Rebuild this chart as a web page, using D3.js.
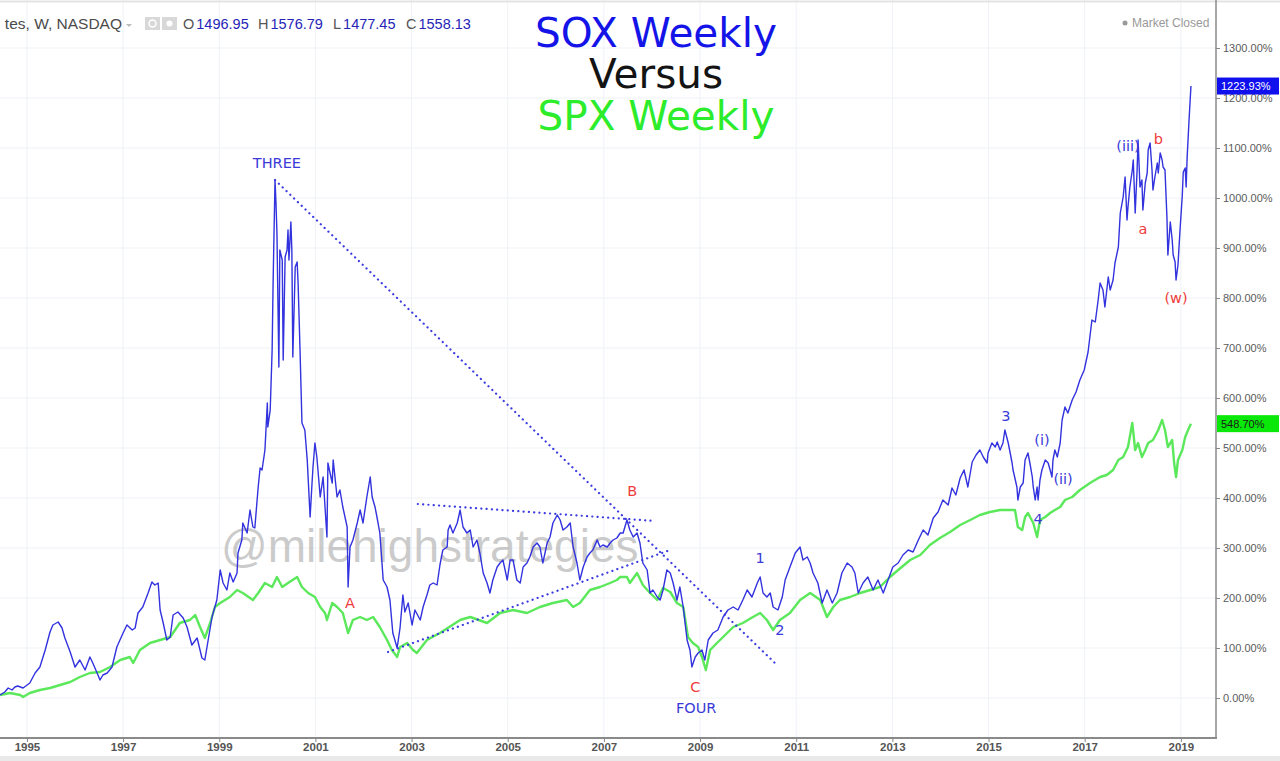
<!DOCTYPE html>
<html><head><meta charset="utf-8">
<script src="https://cdn.jsdelivr.net/npm/d3@7"></script>
<style>html,body{margin:0;padding:0;background:#fff;overflow:hidden}svg{display:block}</style>
</head><body><svg id="c" width="1280" height="761"></svg>
<script>
// ---------- DATA (decimal year, % change) ----------
const soxSeries = [
[1994.44,6],[1994.54,12],[1994.61,20],[1994.69,16],[1994.75,22],[1994.81,24],[1994.92,20],[1995.06,30],[1995.17,50],[1995.27,62],[1995.38,96],[1995.48,132],[1995.54,146],[1995.65,152],[1995.73,140],[1995.79,120],[1995.90,92],[1996.00,62],[1996.10,76],[1996.21,56],[1996.31,82],[1996.37,70],[1996.46,50],[1996.52,36],[1996.58,46],[1996.67,50],[1996.77,62],[1996.87,102],[1997.00,130],[1997.08,146],[1997.19,136],[1997.25,140],[1997.31,170],[1997.41,182],[1997.52,210],[1997.60,232],[1997.66,226],[1997.73,230],[1997.77,176],[1997.83,152],[1997.91,116],[1997.98,122],[1998.04,166],[1998.14,172],[1998.25,160],[1998.33,142],[1998.43,106],[1998.54,120],[1998.64,80],[1998.70,76],[1998.77,116],[1998.85,162],[1998.95,196],[1999.02,256],[1999.08,230],[1999.16,216],[1999.22,250],[1999.29,232],[1999.37,250],[1999.39,290],[1999.47,316],[1999.49,350],[1999.58,330],[1999.64,376],[1999.70,342],[1999.74,340],[1999.81,422],[1999.85,460],[1999.89,456],[1999.95,496],[2000.00,590],[2000.01,542],[2000.06,576],[2000.10,696],[2000.12,830],[2000.16,1036],[2000.18,990],[2000.20,930],[2000.24,662],[2000.26,896],[2000.31,876],[2000.33,676],[2000.37,882],[2000.41,896],[2000.43,936],[2000.45,876],[2000.49,952],[2000.51,896],[2000.53,682],[2000.58,862],[2000.62,872],[2000.64,830],[2000.68,696],[2000.72,550],[2000.78,536],[2000.83,476],[2000.89,362],[2000.93,430],[2000.95,462],[2000.99,510],[2001.03,482],[2001.10,402],[2001.16,442],[2001.24,322],[2001.26,470],[2001.35,430],[2001.37,476],[2001.45,402],[2001.51,416],[2001.57,382],[2001.66,342],[2001.68,222],[2001.72,302],[2001.78,316],[2001.87,350],[2001.93,376],[2001.99,350],[2002.07,402],[2002.14,442],[2002.18,402],[2002.24,382],[2002.28,362],[2002.34,330],[2002.41,236],[2002.49,222],[2002.55,196],[2002.61,130],[2002.70,100],[2002.76,140],[2002.82,206],[2002.86,172],[2002.93,190],[2003.01,146],[2003.07,176],[2003.18,156],[2003.24,182],[2003.32,206],[2003.38,226],[2003.45,230],[2003.53,226],[2003.59,266],[2003.65,296],[2003.74,302],[2003.76,336],[2003.80,346],[2003.86,330],[2003.95,350],[2004.01,376],[2004.07,342],[2004.15,330],[2004.22,336],[2004.28,302],[2004.36,316],[2004.42,290],[2004.49,250],[2004.57,230],[2004.63,210],[2004.69,236],[2004.78,262],[2004.84,270],[2004.90,276],[2004.99,236],[2005.05,276],[2005.11,276],[2005.19,236],[2005.26,230],[2005.32,262],[2005.40,270],[2005.46,282],[2005.53,302],[2005.61,310],[2005.67,302],[2005.73,270],[2005.82,310],[2005.88,322],[2005.94,350],[2006.03,366],[2006.09,356],[2006.15,336],[2006.23,342],[2006.30,350],[2006.36,302],[2006.44,270],[2006.50,236],[2006.57,262],[2006.65,282],[2006.71,290],[2006.77,296],[2006.86,316],[2006.92,302],[2006.98,306],[2007.07,302],[2007.13,310],[2007.19,316],[2007.27,320],[2007.34,330],[2007.40,330],[2007.48,356],[2007.54,336],[2007.61,322],[2007.69,330],[2007.75,310],[2007.81,270],[2007.90,256],[2007.96,210],[2008.02,216],[2008.11,202],[2008.17,196],[2008.23,216],[2008.31,256],[2008.38,250],[2008.44,230],[2008.52,196],[2008.58,222],[2008.65,182],[2008.73,116],[2008.79,96],[2008.83,62],[2008.90,82],[2008.96,90],[2009.04,96],[2009.10,76],[2009.17,116],[2009.27,130],[2009.37,136],[2009.48,162],[2009.58,176],[2009.69,182],[2009.79,176],[2009.89,196],[2009.98,216],[2010.08,202],[2010.19,230],[2010.25,242],[2010.31,210],[2010.39,202],[2010.46,210],[2010.52,182],[2010.62,176],[2010.71,202],[2010.77,236],[2010.87,262],[2010.98,290],[2011.08,302],[2011.14,276],[2011.23,282],[2011.29,270],[2011.35,250],[2011.45,230],[2011.54,190],[2011.64,216],[2011.75,190],[2011.85,210],[2011.95,250],[2012.06,270],[2012.16,262],[2012.22,250],[2012.29,210],[2012.39,230],[2012.49,242],[2012.60,216],[2012.70,236],[2012.81,210],[2012.91,236],[2013.01,262],[2013.12,270],[2013.22,286],[2013.33,296],[2013.43,292],[2013.54,316],[2013.64,336],[2013.74,326],[2013.85,360],[2013.95,372],[2014.05,396],[2014.16,386],[2014.24,420],[2014.32,406],[2014.41,440],[2014.49,456],[2014.57,422],[2014.66,472],[2014.74,486],[2014.82,496],[2014.89,482],[2014.97,470],[2014.99,490],[2015.07,510],[2015.14,502],[2015.18,512],[2015.24,496],[2015.30,510],[2015.34,536],[2015.41,510],[2015.49,470],[2015.51,456],[2015.59,422],[2015.61,396],[2015.66,422],[2015.72,430],[2015.76,476],[2015.82,490],[2015.86,470],[2015.91,442],[2015.93,422],[2015.97,396],[2016.01,422],[2016.03,396],[2016.07,436],[2016.11,456],[2016.18,476],[2016.24,470],[2016.28,456],[2016.32,442],[2016.34,476],[2016.38,496],[2016.43,482],[2016.49,510],[2016.53,556],[2016.59,582],[2016.65,570],[2016.74,596],[2016.82,612],[2016.90,636],[2016.99,656],[2017.07,692],[2017.15,756],[2017.22,752],[2017.28,796],[2017.32,830],[2017.38,816],[2017.42,782],[2017.49,842],[2017.53,816],[2017.59,836],[2017.63,870],[2017.70,902],[2017.74,970],[2017.80,1002],[2017.84,1042],[2017.88,956],[2017.90,982],[2017.94,1022],[2017.99,1056],[2018.01,1076],[2018.05,970],[2018.09,1056],[2018.11,1116],[2018.15,1022],[2018.19,1036],[2018.21,976],[2018.26,1030],[2018.30,1050],[2018.32,1096],[2018.36,1110],[2018.40,1056],[2018.42,1016],[2018.46,1042],[2018.51,1070],[2018.53,1050],[2018.57,1090],[2018.61,1076],[2018.63,1062],[2018.67,1056],[2018.71,962],[2018.73,886],[2018.78,952],[2018.82,916],[2018.84,886],[2018.88,872],[2018.90,836],[2018.94,866],[2018.98,932],[2019.03,1006],[2019.05,1052],[2019.09,1060],[2019.11,1022],[2019.13,1080],[2019.17,1156],[2019.21,1223.93]
];
const spxSeries = [
[1994.44,6],[1994.65,10],[1994.86,6],[1994.92,2],[1995.06,10],[1995.27,16],[1995.48,20],[1995.69,26],[1995.90,32],[1996.10,42],[1996.31,50],[1996.52,52],[1996.73,62],[1996.94,76],[1997.14,82],[1997.21,70],[1997.35,96],[1997.56,110],[1997.77,116],[1997.98,122],[1998.18,150],[1998.39,156],[1998.50,166],[1998.60,142],[1998.70,120],[1998.81,150],[1998.91,182],[1999.02,190],[1999.22,202],[1999.37,216],[1999.49,210],[1999.70,196],[1999.81,210],[1999.95,230],[2000.10,222],[2000.20,242],[2000.31,222],[2000.43,230],[2000.62,242],[2000.72,222],[2000.85,210],[2000.99,202],[2001.10,182],[2001.20,170],[2001.24,156],[2001.35,190],[2001.45,182],[2001.57,170],[2001.68,130],[2001.78,156],[2001.93,162],[2002.07,156],[2002.20,162],[2002.34,142],[2002.49,116],[2002.59,96],[2002.70,82],[2002.76,102],[2002.91,110],[2003.03,96],[2003.11,90],[2003.32,116],[2003.59,130],[2004.01,156],[2004.22,162],[2004.57,150],[2004.84,170],[2005.11,176],[2005.40,170],[2005.67,182],[2005.94,190],[2006.23,196],[2006.36,182],[2006.50,190],[2006.71,216],[2006.92,222],[2007.13,230],[2007.27,236],[2007.34,242],[2007.48,242],[2007.54,230],[2007.69,250],[2007.81,226],[2007.96,210],[2008.11,196],[2008.23,220],[2008.38,212],[2008.52,190],[2008.65,182],[2008.75,122],[2008.85,110],[2008.96,102],[2009.04,82],[2009.12,56],[2009.21,96],[2009.35,110],[2009.48,122],[2009.69,142],[2009.89,150],[2010.10,162],[2010.25,170],[2010.39,156],[2010.52,136],[2010.66,156],[2010.87,170],[2011.08,196],[2011.29,210],[2011.50,196],[2011.64,162],[2011.77,182],[2011.91,196],[2012.12,202],[2012.33,210],[2012.54,216],[2012.74,222],[2012.95,242],[2013.12,256],[2013.37,276],[2013.58,286],[2013.78,306],[2013.99,320],[2014.20,332],[2014.41,346],[2014.62,356],[2014.82,366],[2015.03,372],[2015.24,376],[2015.45,376],[2015.55,376],[2015.61,342],[2015.70,336],[2015.76,362],[2015.82,370],[2015.93,350],[2016.01,322],[2016.07,356],[2016.18,362],[2016.28,370],[2016.38,376],[2016.49,382],[2016.59,396],[2016.74,402],[2016.90,416],[2017.11,430],[2017.32,442],[2017.46,446],[2017.59,456],[2017.70,476],[2017.80,482],[2017.90,502],[2017.99,550],[2018.05,496],[2018.11,510],[2018.19,482],[2018.26,496],[2018.32,510],[2018.42,516],[2018.53,536],[2018.61,556],[2018.67,536],[2018.73,502],[2018.82,516],[2018.86,470],[2018.90,442],[2018.94,476],[2019.03,496],[2019.09,522],[2019.15,536],[2019.21,548.70]
];
const yearTicks = [1995,1997,1999,2001,2003,2005,2007,2009,2011,2013,2015,2017,2019];
const pctTicks = [0,100,200,300,400,500,600,700,800,900,1000,1100,1200,1300];
const lastSox = 1223.93;
const lastSpx = 548.70;
const titleLines = ["SOX Weekly","Versus","SPX Weekly"];
const headerSymbol = "tes, W, NASDAQ";
const ohlcLetters = ["O","H","L","C"];
const ohlcValues = ["1496.95","1576.79","1477.45","1558.13"];
// wave labels: text, decimal year, % level, kind (wave / corrective)
const waveTexts  = ["THREE","A","B","C","FOUR","1","2","3","(i)","(ii)","4","(iii)","b","a","(w)"];
const waveDates  = [2000.20,2001.72,2007.59,2008.90,2008.92,2010.25,2010.66,2015.36,2016.11,2016.55,2016.03,2017.90,2018.53,2018.21,2018.90];
const waveLevels = [1070,190,414,22,-20,280,136,564,516,438,358,1104,1118,938,800];
const waveKinds  = ["w","c","c","c","w","w","w","w","w","w","w","w","c","c","c"];
// dotted trend lines: [date1, value1, date2, value2]
const trendLines = [
  [2000.16,1036,2010.60,66],
  [2003.13,388,2008.06,354],
  [2002.51,92,2008.38,296]
];

// ---------- CHART ----------
const W=1280,H=761, plotR=1216, plotB=738;
const svg=d3.select("#c");
const x=d3.scaleLinear().domain([1994.44,2019.71]).range([0,1215]);
const y=d3.scaleLinear().domain([-80,1396]).range([plotB,0]);
const blue="#3232de", green="#5be85b", red="#ee3b3b", labBlue="#3a3ad8";

svg.append("rect").attr("width",W).attr("height",H).attr("fill","#fff");
// grid
const g=svg.append("g");
g.selectAll(".hg").data(pctTicks).enter().append("line")
 .attr("x1",0).attr("x2",plotR).attr("y1",d=>y(d)).attr("y2",d=>y(d))
 .attr("stroke","#eff1f6").attr("stroke-width",1);
g.selectAll(".vg").data(yearTicks).enter().append("line")
 .attr("x1",d=>x(d)).attr("x2",d=>x(d)).attr("y1",0).attr("y2",plotB)
 .attr("stroke","#eff1f6").attr("stroke-width",1);
// top border
svg.append("line").attr("x1",0).attr("x2",W).attr("y1",1.5).attr("y2",1.5).attr("stroke","#e4e4e4").attr("stroke-width",2);

// watermark
svg.append("text").attr("x",221).attr("y",562).text("@milehighstrategies")
 .attr("font-family","Liberation Sans, Arial, sans-serif").attr("font-size",46)
 .attr("fill","#a8a8a8").attr("fill-opacity",0.6);

// clip
svg.append("clipPath").attr("id","pc").append("rect").attr("x",0).attr("y",0).attr("width",plotR).attr("height",plotB);
const line=d3.line().x(d=>x(d[0])).y(d=>y(d[1]));
const lines=svg.append("g").attr("clip-path","url(#pc)");
lines.append("path").datum(spxSeries).attr("d",line).attr("fill","none")
 .attr("stroke",green).attr("stroke-width",2.4).attr("stroke-linejoin","round");
lines.append("path").datum(soxSeries).attr("d",line).attr("fill","none")
 .attr("stroke",blue).attr("stroke-width",1.4).attr("stroke-linejoin","round");

// trend lines
lines.selectAll(".tl").data(trendLines).enter().append("line")
 .attr("x1",d=>x(d[0])).attr("y1",d=>y(d[1])).attr("x2",d=>x(d[2])).attr("y2",d=>y(d[3]))
 .attr("stroke","#3b3be0").attr("stroke-width",2.2).attr("stroke-dasharray","0.1,5.2").attr("stroke-linecap","round");

// wave labels
svg.selectAll(".wl").data(waveTexts).enter().append("text")
 .attr("x",(d,i)=>x(waveDates[i])).attr("y",(d,i)=>y(waveLevels[i]))
 .attr("text-anchor","middle").attr("dominant-baseline","central")
 .attr("font-family","DejaVu Sans, Verdana, sans-serif").attr("font-size",14.5)
 .attr("fill",(d,i)=>waveKinds[i]==="c"?red:labBlue).text(d=>d);

// title
const tcol=["#1414e8","#141414","#2cec2c"], tbase=[47,88,130];
svg.selectAll(".tt").data(titleLines).enter().append("text")
 .attr("x",656).attr("y",(d,i)=>tbase[i]).attr("text-anchor","middle")
 .attr("font-family","DejaVu Sans, Verdana, sans-serif").attr("font-size",40.5)
 .attr("fill",(d,i)=>tcol[i]).text(d=>d);

// axes
svg.append("line").attr("x1",plotR).attr("x2",plotR).attr("y1",0).attr("y2",plotB+1).attr("stroke","#8a8a8a").attr("stroke-width",1.5);
svg.append("line").attr("x1",0).attr("x2",plotR+1).attr("y1",plotB).attr("y2",plotB).attr("stroke","#8a8a8a").attr("stroke-width",2);
const yAxis=d3.axisRight(y).tickValues(pctTicks).tickSize(4).tickFormat(d=>d3.format(".2f")(d)+"%");
const ya=svg.append("g").attr("transform",`translate(${plotR},0)`).call(yAxis);
ya.select(".domain").remove();
ya.selectAll("line").attr("stroke","#888");
ya.selectAll("text").attr("font-family","Liberation Sans, Arial, sans-serif").attr("font-size",11).attr("fill","#5a5a5a").attr("x",7);
const xAxis=d3.axisBottom(x).tickValues(yearTicks).tickSize(4).tickFormat(d3.format("d"));
const xa=svg.append("g").attr("transform",`translate(0,${plotB})`).call(xAxis);
xa.select(".domain").remove();
xa.selectAll("line").attr("stroke","#888");
xa.selectAll("text").attr("font-family","Liberation Sans, Arial, sans-serif").attr("font-size",11.5).attr("font-weight","bold").attr("fill","#555").attr("dy","0.55em");
svg.append("rect").attr("x",0).attr("y",756).attr("width",W).attr("height",5).attr("fill","#e9e9e9");

// last price labels
const tags=[[lastSox,"#1010ee","#ffffff"],[lastSpx,"#0ae80a","#1a1a1a"]];
tags.forEach(t=>{
  const yy=y(t[0]);
  svg.append("rect").attr("x",plotR+1).attr("y",yy-8.5).attr("width",62).attr("height",17).attr("fill",t[1]);
  svg.append("text").attr("x",plotR+5).attr("y",yy).attr("dominant-baseline","central")
   .attr("font-family","Liberation Sans, Arial, sans-serif").attr("font-size",11).attr("fill",t[2])
   .text(d3.format(".2f")(t[0])+"%");
});

// header
svg.append("text").attr("x",122).attr("y",29).attr("text-anchor","end")
 .attr("font-family","Liberation Sans, Arial, sans-serif").attr("font-size",15.5).attr("fill","#4a4a4a").text(headerSymbol);
svg.append("path").attr("d","M126,24 l6,0 l-3,3 z").attr("fill","#bbb");
svg.append("rect").attr("x",145).attr("y",17).attr("width",15).attr("height",13).attr("fill","#d8d8d8");
svg.append("rect").attr("x",162).attr("y",17).attr("width",15).attr("height",13).attr("fill","#d8d8d8");
svg.append("circle").attr("cx",152.5).attr("cy",23.5).attr("r",3.5).attr("fill","none").attr("stroke","#fff").attr("stroke-width",1.5);
svg.append("circle").attr("cx",169.5).attr("cy",23.5).attr("r",3).attr("fill","#fff");
const ohX=[183,258,333,406];
ohlcLetters.forEach((l,i)=>{
  const t=svg.append("text").attr("x",ohX[i]).attr("y",29)
   .attr("font-family","Liberation Sans, Arial, sans-serif").attr("font-size",14.5);
  t.append("tspan").attr("fill","#555").text(l);
  t.append("tspan").attr("fill","#2525b8").attr("dx",2).text(ohlcValues[i]);
});
svg.append("circle").attr("cx",1125).attr("cy",23).attr("r",2.5).attr("fill","#999");
svg.append("text").attr("x",1132).attr("y",27).attr("font-family","Liberation Sans, Arial, sans-serif")
 .attr("font-size",12).attr("fill","#999").text("Market Closed");
</script></body></html>
